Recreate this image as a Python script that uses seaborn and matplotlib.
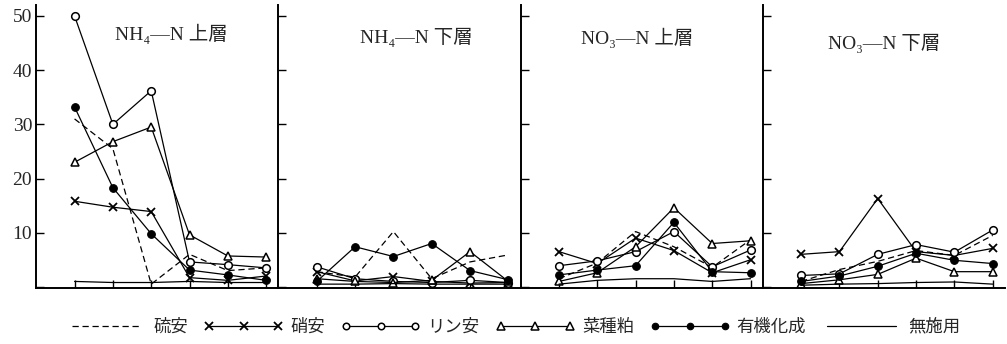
import pandas as pd
import matplotlib
matplotlib.use('Agg')
from matplotlib import pyplot as plt
from matplotlib.lines import Line2D
import seaborn as sns

positions = [1, 2, 3, 4, 5, 6]
panels = ['NH₄—N 上層', 'NH₄—N 下層', 'NO₃—N 上層', 'NO₃—N 下層']
yticks = [0, 10, 20, 30, 40, 50]
ytick_labels = ['', '10', '20', '30', '40', '50']

# one list per panel, same order as `panels`
ryuan = [[31, 25.5, 0.5, 6.0, 3.0, 3.5],
         [2.8, 1.8, 10.2, 1.5, 4.6, 5.9],
         [1.5, 4.4, 10.2, 7.4, 3.6, 8.7],
         [1.0, 3.2, 4.7, 6.7, 5.8, 9.5]]
shoan = [[15.8, 14.7, 13.9, 1.7, 1.2, 2.0],
         [2.8, 1.1, 1.9, 1.0, 0.7, 0.8],
         [6.5, 4.3, 9.0, 6.7, 2.6, 5.0],
         [6.0, 6.5, 16.3, 6.5, 5.8, 7.1]]
rinan = [[50, 30, 36.2, 4.6, 4.1, 3.5],
         [3.7, 1.5, 1.0, 0.8, 1.2, 0.8],
         [3.9, 4.8, 6.5, 10.2, 3.7, 6.8],
         [2.1, 2.4, 6.0, 7.8, 6.4, 10.5]]
natane = [[23, 26.8, 29.5, 9.6, 5.7, 5.5],
          [1.5, 1.0, 0.8, 1.2, 6.5, 1.0],
          [1.0, 2.6, 7.4, 14.6, 8.0, 8.5],
          [0.6, 1.3, 2.3, 5.3, 2.8, 2.8]]
yuki = [[33.2, 18.3, 9.8, 3.1, 2.2, 1.2],
        [1.0, 7.4, 5.6, 8.0, 3.0, 1.3],
        [2.2, 3.1, 3.9, 11.9, 2.8, 2.6],
        [1.0, 2.0, 3.8, 6.2, 4.9, 4.3]]
museyo = [[1.0, 0.8, 0.8, 1.0, 0.8, 0.8],
          [0.5, 0.5, 0.6, 0.5, 0.5, 0.5],
          [0.5, 1.2, 1.5, 1.5, 1.0, 1.5],
          [0.3, 0.5, 0.6, 0.8, 0.9, 0.5]]

series = {'硫安': ryuan, '硝安': shoan, 'リン安': rinan,
          '菜種粕': natane, '有機化成': yuki, '無施用': museyo}

styles = {
    '硫安': dict(linestyle=(0, (5, 3)), marker=None),
    '硝安': dict(linestyle='-', marker='x', markersize=6, markeredgewidth=1.3),
    'リン安': dict(linestyle='-', marker='o', markersize=5.5, markerfacecolor='white', markeredgewidth=1.1),
    '菜種粕': dict(linestyle='-', marker='^', markersize=6, markerfacecolor='white', markeredgewidth=1.1),
    '有機化成': dict(linestyle='-', marker='o', markersize=5.5, markerfacecolor='black', markeredgewidth=0.8),
    '無施用': dict(linestyle='-', marker=None),
}

rows = []
for name, vals in series.items():
    for p, panel_vals in enumerate(vals):
        for x, v in zip(positions, panel_vals):
            rows.append({'panel': p, 'x': x, 'value': v, 'series': name})
data = pd.DataFrame(rows)


def main():
    sns.set_theme(style='ticks')
    plt.rcParams['font.family'] = ['Liberation Serif', 'DejaVu Serif', 'Noto Sans CJK JP']

    fig, axes = plt.subplots(1, 4, figsize=(10.07, 3.44), dpi=100, sharey=True)
    fig.subplots_adjust(left=0.036, right=0.998, bottom=0.163, top=0.985, wspace=0)

    title_pos = [(0.56, 0.90), (0.57, 0.885), (0.48, 0.885), (0.50, 0.865)]
    for p, ax in enumerate(axes):
        sub = data[data['panel'] == p]
        for name in series:
            sns.lineplot(data=sub[sub['series'] == name], x='x', y='value',
                         color='black', lw=0.9, ax=ax, legend=False,
                         markeredgecolor='black', **styles[name])
        ax.set_xlim(0.0, 6.32)
        ax.set_ylim(-0.2, 52)
        ax.set_xticks(positions)
        ax.set_xticklabels([])
        ax.set_yticks(yticks)
        ax.set_xlabel('')
        ax.set_ylabel('')
        ax.tick_params(axis='both', direction='in', length=6, width=1,
                       color='black')
        ax.tick_params(axis='y', labelsize=14, pad=3)
        if p == 0:
            ax.set_yticklabels(ytick_labels)
        else:
            ax.tick_params(axis='y', labelleft=False)
        for s in ['top', 'right']:
            ax.spines[s].set_visible(False)
        for s in ['left', 'bottom']:
            ax.spines[s].set_linewidth(1.4)
            ax.spines[s].set_color('black')
        ax.text(title_pos[p][0], title_pos[p][1], panels[p], transform=ax.transAxes,
                ha='center', va='center', fontsize=14,
                family=['Liberation Serif', 'DejaVu Serif', 'Noto Sans CJK JP'])

    handles = []
    for name in series:
        st = dict(styles[name])
        if st.get('markersize'):
            st['markersize'] = st['markersize'] * 0.85
        handles.append(Line2D([], [], color='black', lw=0.9,
                              markeredgecolor='black', **st))
    fig.legend(handles, list(series.keys()), loc='center', ncol=6,
               bbox_to_anchor=(0.51, 0.05), frameon=False, numpoints=3,
               handlelength=4.6, handletextpad=0.4, columnspacing=0.9,
               prop={'family': ['Noto Sans CJK JP', 'DejaVu Sans'], 'size': 12.5})

    plt.savefig('out.png', dpi=100)


if __name__ == '__main__':
    main()
